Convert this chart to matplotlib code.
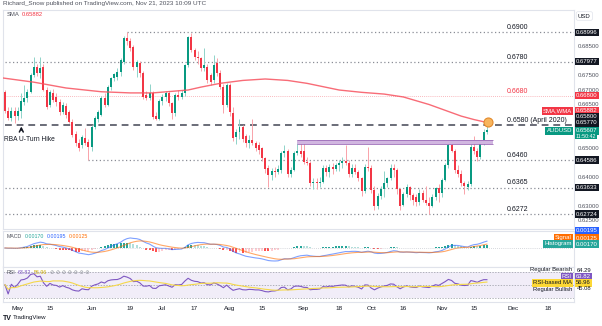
import numpy as np
import pandas as pd
import matplotlib
matplotlib.use("Agg")
import matplotlib.pyplot as plt

plt.rcParams['font.family'] = ['Liberation Sans', 'DejaVu Sans']

# AUD/USD daily candles, 25 Apr 2023 - 21 Nov 2023 (one row per week)
first_day = '2023-04-25'
opens = [
    0.6694, 0.6628, 0.6605, 0.6628,
    0.6612, 0.6628, 0.6660, 0.6672, 0.6694,
    0.6752, 0.6780, 0.6757, 0.6780, 0.6700,
    0.6648, 0.6690, 0.6677, 0.6660, 0.6623,
    0.6645, 0.6623, 0.6591, 0.6550, 0.6516,
    0.6510, 0.6535, 0.6522, 0.6505, 0.6573,
    0.6600, 0.6614, 0.6672, 0.6650, 0.6711,
    0.6740, 0.6745, 0.6763, 0.6797, 0.6880,
    0.6868, 0.6849, 0.6780, 0.6792, 0.6758,
    0.6682, 0.6672, 0.6688, 0.6610, 0.6600,
    0.6662, 0.6675, 0.6688, 0.6654, 0.6619,
    0.6683, 0.6675, 0.6688, 0.6786, 0.6884,
    0.6838, 0.6815, 0.6809, 0.6775, 0.6780,
    0.6751, 0.6734, 0.6792, 0.6758, 0.6711,
    0.6649, 0.6718, 0.6619, 0.6538, 0.6555,
    0.6572, 0.6540, 0.6518, 0.6528, 0.6517,
    0.6510, 0.6500, 0.6466, 0.6431, 0.6408,
    0.6420, 0.6418, 0.6425, 0.6483, 0.6488,
    0.6410, 0.6425, 0.6483, 0.6490, 0.6488,
    0.6452, 0.6447, 0.6378, 0.6382, 0.6378,
    0.6383, 0.6430, 0.6418, 0.6435, 0.6428,
    0.6440, 0.6447, 0.6455, 0.6450, 0.6412,
    0.6432, 0.6418, 0.6395, 0.6352, 0.6436,
    0.6432, 0.6355, 0.6300, 0.6335, 0.6360,
    0.6380, 0.6395, 0.6430, 0.6424, 0.6357,
    0.6305, 0.6340, 0.6366, 0.6338, 0.6331,
    0.6314, 0.6345, 0.6322, 0.6312, 0.6300,
    0.6331, 0.6362, 0.6345, 0.6390, 0.6441,
    0.6510, 0.6490, 0.6425, 0.6410, 0.6378,
    0.6365, 0.6375, 0.6505, 0.6490, 0.6468,
    0.6518, 0.6556,
]
highs = [
    0.6700, 0.6640, 0.6640, 0.6642,
    0.6640, 0.6690, 0.6717, 0.6705, 0.6760,
    0.6815, 0.6790, 0.6815, 0.6790, 0.6712,
    0.6700, 0.6705, 0.6690, 0.6668, 0.6660,
    0.6655, 0.6630, 0.6600, 0.6558, 0.6530,
    0.6545, 0.6568, 0.6530, 0.6580, 0.6610,
    0.6630, 0.6680, 0.6690, 0.6718, 0.6745,
    0.6760, 0.6775, 0.6810, 0.6885, 0.6900,
    0.6878, 0.6855, 0.6805, 0.6800, 0.6765,
    0.6695, 0.6720, 0.6695, 0.6625, 0.6670,
    0.6685, 0.6695, 0.6695, 0.6660, 0.6690,
    0.6700, 0.6700, 0.6790, 0.6886, 0.6895,
    0.6845, 0.6835, 0.6815, 0.6844, 0.6790,
    0.6760, 0.6820, 0.6810, 0.6770, 0.6720,
    0.6725, 0.6725, 0.6640, 0.6565, 0.6600,
    0.6580, 0.6550, 0.6545, 0.6600, 0.6525,
    0.6520, 0.6505, 0.6470, 0.6440, 0.6430,
    0.6435, 0.6440, 0.6490, 0.6511, 0.6495,
    0.6435, 0.6490, 0.6522, 0.6521, 0.6522,
    0.6470, 0.6455, 0.6395, 0.6395, 0.6400,
    0.6440, 0.6440, 0.6445, 0.6450, 0.6450,
    0.6460, 0.6470, 0.6511, 0.6460, 0.6445,
    0.6445, 0.6425, 0.6400, 0.6445, 0.6502,
    0.6440, 0.6370, 0.6345, 0.6370, 0.6420,
    0.6400, 0.6445, 0.6445, 0.6430, 0.6360,
    0.6350, 0.6375, 0.6370, 0.6345, 0.6340,
    0.6360, 0.6355, 0.6370, 0.6330, 0.6340,
    0.6365, 0.6375, 0.6395, 0.6450, 0.6522,
    0.6522, 0.6495, 0.6440, 0.6425, 0.6385,
    0.6385, 0.6515, 0.6540, 0.6500, 0.6525,
    0.6565, 0.6590,
]
lows = [
    0.6620, 0.6598, 0.6592, 0.6585,
    0.6598, 0.6605, 0.6648, 0.6660, 0.6688,
    0.6745, 0.6748, 0.6740, 0.6695, 0.6635,
    0.6640, 0.6660, 0.6645, 0.6615, 0.6618,
    0.6605, 0.6585, 0.6538, 0.6508, 0.6490,
    0.6500, 0.6510, 0.6460, 0.6490, 0.6565,
    0.6590, 0.6610, 0.6640, 0.6645, 0.6700,
    0.6730, 0.6735, 0.6750, 0.6790, 0.6855,
    0.6835, 0.6770, 0.6746, 0.6746, 0.6670,
    0.6665, 0.6665, 0.6600, 0.6595, 0.6595,
    0.6650, 0.6662, 0.6645, 0.6600, 0.6612,
    0.6665, 0.6668, 0.6680, 0.6780, 0.6830,
    0.6805, 0.6790, 0.6765, 0.6765, 0.6725,
    0.6718, 0.6725, 0.6750, 0.6705, 0.6620,
    0.6640, 0.6610, 0.6525, 0.6515, 0.6530,
    0.6520, 0.6505, 0.6500, 0.6510, 0.6490,
    0.6480, 0.6455, 0.6415, 0.6366, 0.6390,
    0.6400, 0.6410, 0.6415, 0.6470, 0.6400,
    0.6400, 0.6420, 0.6475, 0.6470, 0.6445,
    0.6440, 0.6370, 0.6360, 0.6357, 0.6365,
    0.6380, 0.6405, 0.6400, 0.6410, 0.6420,
    0.6420, 0.6430, 0.6440, 0.6400, 0.6400,
    0.6410, 0.6385, 0.6335, 0.6345, 0.6420,
    0.6345, 0.6287, 0.6290, 0.6325, 0.6330,
    0.6365, 0.6390, 0.6400, 0.6340, 0.6285,
    0.6300, 0.6330, 0.6320, 0.6305, 0.6300,
    0.6305, 0.6315, 0.6305, 0.6272, 0.6295,
    0.6320, 0.6315, 0.6330, 0.6385, 0.6430,
    0.6485, 0.6415, 0.6400, 0.6370, 0.6340,
    0.6355, 0.6370, 0.6480, 0.6455, 0.6462,
    0.6510, 0.6550,
]
closes = [
    0.6628, 0.6605, 0.6628, 0.6612,
    0.6628, 0.6662, 0.6672, 0.6694, 0.6752,
    0.6780, 0.6757, 0.6777, 0.6700, 0.6643,
    0.6694, 0.6665, 0.6657, 0.6623, 0.6648,
    0.6614, 0.6591, 0.6545, 0.6516, 0.6501,
    0.6539, 0.6516, 0.6505, 0.6573, 0.6602,
    0.6623, 0.6672, 0.6650, 0.6711, 0.6740,
    0.6754, 0.6763, 0.6803, 0.6880, 0.6868,
    0.6844, 0.6780, 0.6795, 0.6758, 0.6677,
    0.6672, 0.6688, 0.6608, 0.6600, 0.6662,
    0.6675, 0.6688, 0.6654, 0.6619, 0.6683,
    0.6675, 0.6688, 0.6786, 0.6884, 0.6838,
    0.6815, 0.6809, 0.6775, 0.6786, 0.6734,
    0.6728, 0.6786, 0.6758, 0.6711, 0.6649,
    0.6718, 0.6625, 0.6535, 0.6555, 0.6572,
    0.6530, 0.6518, 0.6528, 0.6517, 0.6500,
    0.6494, 0.6466, 0.6426, 0.6408, 0.6420,
    0.6418, 0.6428, 0.6483, 0.6488, 0.6410,
    0.6425, 0.6483, 0.6490, 0.6480, 0.6452,
    0.6447, 0.6378, 0.6382, 0.6378, 0.6383,
    0.6430, 0.6418, 0.6435, 0.6428, 0.6440,
    0.6447, 0.6455, 0.6450, 0.6412, 0.6432,
    0.6418, 0.6395, 0.6352, 0.6436, 0.6432,
    0.6355, 0.6300, 0.6335, 0.6360, 0.6380,
    0.6395, 0.6430, 0.6424, 0.6357, 0.6300,
    0.6340, 0.6366, 0.6338, 0.6320, 0.6314,
    0.6345, 0.6322, 0.6312, 0.6300, 0.6331,
    0.6362, 0.6345, 0.6390, 0.6441, 0.6510,
    0.6490, 0.6425, 0.6410, 0.6378, 0.6368,
    0.6375, 0.6505, 0.6490, 0.6468, 0.6518,
    0.6556, 0.6561,
]

# 200-day SMA, sampled (bar offset from 1 May, value)
sma_days = [-5, 5, 15, 26, 35, 42, 53, 57, 63, 70, 77, 84, 90, 100, 107, 114, 120, 128, 133, 138, 142, 146]
sma_vals = [0.6742, 0.6727, 0.6707, 0.6694, 0.6690, 0.6690, 0.6700, 0.6710, 0.6723, 0.6733, 0.6738, 0.6733,
            0.6723, 0.6700, 0.6692, 0.6686, 0.6676, 0.6650, 0.6630, 0.6610, 0.6598, 0.6588]

# horizontal levels drawn on the chart
level_prices = [0.68996, 0.67977, 0.66800, 0.65800, 0.64586, 0.63633, 0.62724]
level_labels = ['0.6900', '0.6780', '0.6680', '0.6580 (April 2020)', '0.6460', '0.6365', '0.6272']
level_starts = ['2023-06-16', '2023-04-25', '2023-04-25', '2023-04-25', '2023-05-31', '2023-04-25', '2023-04-25']

zone_low, zone_high = 0.6514, 0.6527
zone_start, zone_end = '2023-08-30', '2023-11-23'
marker_day, marker_price = '2023-11-21', 0.6589

tick_dates = ['2023-05-01', '2023-05-15', '2023-06-01', '2023-06-19', '2023-07-03', '2023-07-17',
              '2023-08-01', '2023-08-15', '2023-09-01', '2023-09-18', '2023-10-02', '2023-10-16',
              '2023-11-01', '2023-11-15', '2023-12-01', '2023-12-18']
tick_labels = ['May', '15', 'Jun', '19', 'Jul', '17', 'Aug', '15', 'Sep', '18', 'Oct', '16',
               'Nov', '15', 'Dec', '18']

UP, DOWN = '#089981', '#f23645'
W, H = 602, 326


def bar_pos(d):
    return np.busday_count(np.datetime64('2023-05-01'), np.datetime64(d))


dates = pd.bdate_range(first_day, periods=len(closes))
xs = np.array([bar_pos(d.strftime('%Y-%m-%d')) for d in dates])
o, h, l, c = map(np.array, (opens, highs, lows, closes))

# indicators
cs = pd.Series(c)
macd = cs.ewm(span=12, adjust=False).mean() - cs.ewm(span=26, adjust=False).mean()
signal = macd.ewm(span=9, adjust=False).mean()
hist = (macd - signal).values
diff = cs.diff().fillna(0)
gain = diff.clip(lower=0).ewm(alpha=1 / 14, adjust=True).mean()
loss = (-diff.clip(upper=0)).ewm(alpha=1 / 14, adjust=True).mean()
rsi = 100 - 100 / (1 + (gain + 0.0015) / (loss + 0.0015))
rsi_ma = rsi.rolling(14, min_periods=1).mean()

fig = plt.figure(figsize=(W / 100, H / 100), dpi=100)
renderer = fig.canvas.get_renderer()


def frame(top, bottom):
    return [3 / W, 1 - bottom / H, 571 / W, (bottom - top) / H]


ax = fig.add_axes(frame(10, 229))
ax_m = fig.add_axes(frame(231, 267), sharex=ax)
ax_r = fig.add_axes(frame(267, 302), sharex=ax)

for a in (ax, ax_m, ax_r):
    for s in a.spines.values():
        s.set_color('#e0e3eb')
        s.set_linewidth(0.8)
    a.tick_params(left=False, right=False, bottom=False, labelleft=False, labelbottom=False)

ax.set_xlim(-4.6, 173.1)
ax.set_ylim(0.62207, 0.69759)

# candles
up = c >= o
wick_col = np.where(up, '#8ed3c9', '#f9a3aa')
body_col = np.where(up, UP, DOWN)
ax.vlines(xs, l, h, colors=wick_col, linewidth=0.7, zorder=2)
ax.bar(xs, np.maximum(np.abs(c - o), 0.00008), bottom=np.minimum(o, c), width=0.62,
       color=body_col, linewidth=0, zorder=3)

ax.plot(sma_days, sma_vals, color='#f7525f', lw=1.0, alpha=0.85, zorder=4)

# levels
for p, lab, st in zip(level_prices, level_labels, level_starts):
    x0 = bar_pos(st)
    if lab.startswith('0.6580'):
        ax.hlines(p, x0, 173.1, color='#6a6d78', lw=1.4, linestyles=(0, (3.5, 2.5)), zorder=1)
        col = '#131722'
    elif lab == '0.6680':
        ax.hlines(p, x0, 173.1, color='#f7a1a8', lw=0.6, linestyles=(0, (1, 1.5)), zorder=1)
        col = '#f23645'
    else:
        ax.hlines(p, x0, 173.1, color='#8a8d96', lw=0.9, linestyles=(0, (1, 2)), zorder=1)
        col = '#131722'
    ax.text(152.3, p + 0.0004, lab, fontsize=5, color=col, ha='left', va='bottom', zorder=6)

zx0, zx1 = bar_pos(zone_start), bar_pos(zone_end)
ax.fill_between([zx0, zx1], zone_low, zone_high, color='#d1b6e0', lw=0, zorder=4)
ax.hlines([zone_low, zone_high], zx0, zx1, color='#9c6bb8', lw=0.6, zorder=4)

ax.plot(bar_pos(marker_day) + 0.2, marker_price, 'o', ms=6.5, mfc='#f7b55e', mec='#e38a2c', mew=0.8, zorder=7)

ax.annotate('', xy=(1.1, 0.6584), xytext=(1.1, 0.6552),
            arrowprops=dict(arrowstyle='->', lw=1.1, color='#131722', mutation_scale=7))
ax.text(-4.2, 0.6531, 'RBA U-Turn Hike', fontsize=4.8, color='#131722', va='center')

# MACD pane: zero line sits 17 px below the top of a 36 px pane
peak = macd.abs().max()
ax_m.set_ylim(-peak * 19 / 13, peak * 17 / 13)
hist_prev = np.r_[0, hist[:-1]]
hcol = np.where(hist >= 0, np.where(hist > hist_prev, '#26a69a', '#b2dfdb'),
                np.where(hist < hist_prev, '#ff5252', '#ffcdd2'))
ax_m.bar(xs, hist, width=0.62, color=hcol, linewidth=0)
ax_m.plot(xs, macd, color='#2962ff', lw=0.8, alpha=0.6)
ax_m.plot(xs, signal, color='#ff6d00', lw=0.8, alpha=0.6)
ax_m.axhline(0, color='#b2b5be', lw=0.5, ls=(0, (1, 2)))

# RSI pane
ax_r.set_ylim(23.4, 77.2)
ax_r.axhspan(30, 70, color='#7e57c2', alpha=0.1, lw=0)
for lv in (70, 50, 30):
    ax_r.axhline(lv, color='#9598a1', lw=0.5, ls=(0, (2, 2)))
ax_r.plot(xs, rsi, color='#7e57c2', lw=0.8)
ax_r.plot(xs, rsi_ma, color='#f5d84a', lw=0.8)

ax_r.set_xticks([bar_pos(d) for d in tick_dates])
ax_r.set_xticklabels(tick_labels)
ax_r.tick_params(labelbottom=True, length=0, pad=3, labelsize=4.6, labelcolor='#131722')


def ftext(x, y, s, **kw):
    kw.setdefault('fontsize', 4.5)
    kw.setdefault('va', 'center')
    return fig.text(x / W, 1 - y / H, s, **kw)


def row(x, y, parts, size=3.8, gap=2.5):
    # lay out coloured pieces of a legend line one after another
    for s, col in parts:
        t = ftext(x, y, s, color=col, fontsize=size)
        x = t.get_window_extent(renderer).x1 + gap


def box(x, y, s, fc, tc='white', ha='left', size=4.3):
    ftext(x, y, s, fontsize=size, color=tc, ha=ha,
          bbox=dict(boxstyle='square,pad=0.18', fc=fc, ec='none'))


# headers
ftext(3, 4, 'Richard_Snow published on TradingView.com, Nov 21, 2023 10:09 UTC', color='#50535e', fontsize=4.6)
row(7, 15, [('SMA', '#50535e'), ('0.65882', '#f23645')], size=4.2)
row(7, 237, [('MACD', '#50535e'), ('0.00170', '#26a69a'), ('0.00195', '#2962ff'), ('0.00125', '#ff6d00')])
row(7, 273, [('RSI', '#50535e'), ('63.82', '#7e57c2'), ('56.96', '#c9a900'),
             ('\u2298 \u2298 \u2298 \u2298 \u2298 \u2298 \u2298', '#9598a1')])
ftext(3, 318, 'TV', color='#131722', fontsize=5, fontweight='bold')
ftext(13, 318, 'TradingView', color='#131722', fontsize=4.4)

# right price scale
for p in (0.685, 0.675, 0.670, 0.665, 0.650, 0.640, 0.630, 0.625):
    ax.text(1.006, p, f'{p:.5f}', transform=ax.get_yaxis_transform(), fontsize=4.3,
            color='#50535e', va='center', clip_on=False)
ftext(578, 16, 'USD', color='#131722', fontsize=4.3,
      bbox=dict(boxstyle='round,pad=0.3', fc='white', ec='#e0e3eb', lw=0.5))
for p, fc in ((0.68996, '#131722'), (0.67977, '#131722'), (0.66800, '#f23645'),
              (0.64586, '#131722'), (0.63633, '#131722'), (0.62724, '#131722')):
    y = 90 + (0.670 - p) * 2900
    box(576, y, f'{p:.5f}', fc)
box(576, 111, '0.65882', '#f23645')
box(572, 111, 'SMA,WMA', '#f23645', ha='right')
box(576, 117, '0.65800', '#131722')
box(576, 123, '0.65770', '#131722')
box(576, 131, '0.65607', UP)
box(572, 131, 'AUDUSD', UP, ha='right')
ftext(576, 136, '11:50:42', color='white', fontsize=3.8,
      bbox=dict(boxstyle='square,pad=0.18', fc=UP, ec='none'))

# MACD scale
box(576, 231, '0.00195', '#2962ff')
box(576, 238, '0.00125', '#ff6d00')
box(572, 238, 'Signal', '#ff6d00', ha='right')
box(576, 244, '0.00170', '#26a69a')
box(572, 244, 'Histogram', '#26a69a', ha='right')

# RSI scale
ftext(572, 270, 'Regular Bearish', color='#131722', ha='right', fontsize=4.2)
ftext(577, 270, '64.29', color='#131722', fontsize=4.2)
box(576, 277, '63.82', '#7e57c2')
box(572, 277, 'RSI', '#7e57c2', ha='right')
box(576, 283, '56.96', '#fdd835', tc='#131722')
box(572, 283, 'RSI-based MA', '#fdd835', tc='#131722', ha='right')
ftext(572, 289, 'Regular Bullish', color='#131722', ha='right', fontsize=4.2)
ftext(577, 289, '45.08', color='#131722', fontsize=4.2)

fig.savefig('out.png', dpi=100, facecolor='white')
